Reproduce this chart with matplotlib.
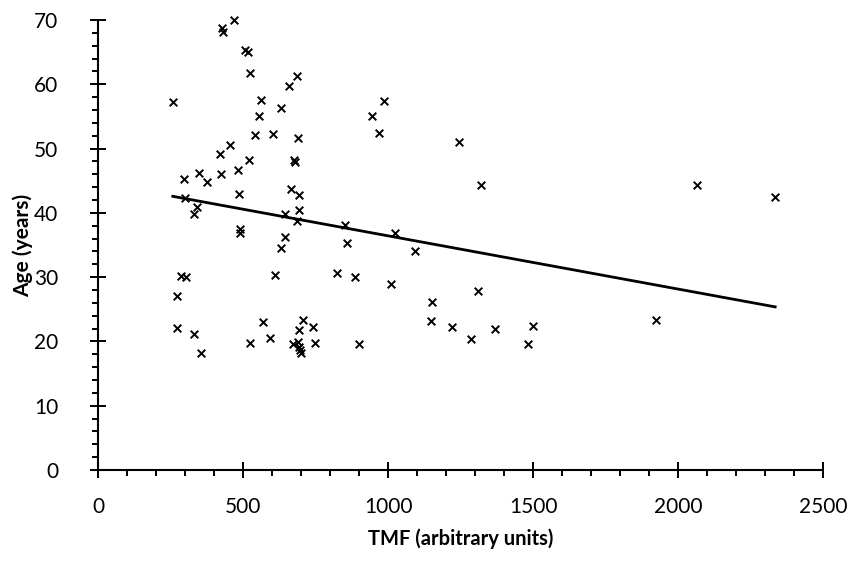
import matplotlib
matplotlib.use("Agg")
import matplotlib.pyplot as plt
import numpy as np
from matplotlib.ticker import MultipleLocator

plt.rcParams['font.family'] = ['Lato', 'DejaVu Sans']

# TMF (arbitrary units) and age (years)
tmf = [257, 270, 272, 284, 302, 296, 300, 330, 330, 339,
       346, 355, 376, 420, 422, 427, 431, 454, 469, 482,
       486, 487, 489, 507, 515, 524, 521, 524, 541, 555,
       562, 567, 592, 603, 608, 629, 631, 643, 645, 659,
       663, 675, 678, 686, 686, 689, 691, 693, 707, 693,
       739, 670, 689, 693, 697, 700, 746, 852, 859, 824,
       886, 900, 944, 969, 985, 1010, 1022, 1093, 1151, 1148,
       1220, 1245, 1284, 1309, 1320, 1367, 1482, 1500, 1923, 2066,
       2334]
age = [57.2, 27.0, 22.1, 30.2, 30.1, 45.3, 42.3, 21.2, 39.9, 40.9,
       46.2, 18.2, 44.8, 49.1, 46.0, 68.8, 68.2, 50.5, 70.0, 46.7,
       43.0, 37.5, 36.8, 65.4, 65.0, 61.8, 48.3, 19.7, 52.1, 55.0,
       57.5, 23.0, 20.6, 52.3, 30.3, 34.5, 56.3, 36.3, 39.9, 59.7,
       43.7, 48.2, 47.9, 61.3, 38.7, 51.7, 42.8, 40.5, 23.3, 21.8,
       22.2, 19.6, 19.9, 19.1, 18.6, 18.2, 19.8, 38.1, 35.3, 30.6,
       30.1, 19.6, 55.0, 52.4, 57.4, 28.9, 36.9, 34.1, 26.1, 23.2,
       22.3, 51.0, 20.4, 27.9, 44.3, 21.9, 19.6, 22.4, 23.4, 44.3,
       42.4]

x = np.array(tmf, dtype=float)
y = np.array(age, dtype=float)

fig = plt.figure(figsize=(8.53, 5.61), dpi=100)
ax = fig.add_axes([0.1152, 0.1622, 0.85, 0.8021])

ax.scatter(x, y, marker='x', s=30, color='black', linewidths=1.4,
           zorder=3, clip_on=False)

# linear trend line over the data range
slope, intercept = np.polyfit(x, y, 1)
xs = np.array([x.min(), x.max()])
ax.plot(xs, slope * xs + intercept, color='black', lw=2.0, zorder=2)

ax.set_xlim(0, 2500)
ax.set_ylim(0, 70)
ax.xaxis.set_major_locator(MultipleLocator(500))
ax.xaxis.set_minor_locator(MultipleLocator(100))
ax.yaxis.set_major_locator(MultipleLocator(10))
ax.yaxis.set_minor_locator(MultipleLocator(2))

for side in ['top', 'right']:
    ax.spines[side].set_visible(False)
for side in ['left', 'bottom']:
    ax.spines[side].set_linewidth(1.5)
    ax.spines[side].set_capstyle('butt')

ax.tick_params(which='major', direction='inout', length=11.5, width=1.4,
               labelsize=15, colors='black')
ax.tick_params(which='minor', direction='out', length=4.2, width=1.4)
ax.tick_params(axis='x', which='major', pad=14)
ax.tick_params(axis='y', which='major', pad=23)

ax.set_xlabel('TMF (arbitrary units)', fontsize=14.5, fontweight='bold')
ax.set_ylabel('Age (years)', fontsize=15, fontweight='bold')
ax.xaxis.set_label_coords(0.5, -0.13)
ax.yaxis.set_label_coords(-0.09, 0.5)

fig.savefig('out.png', dpi=100)
